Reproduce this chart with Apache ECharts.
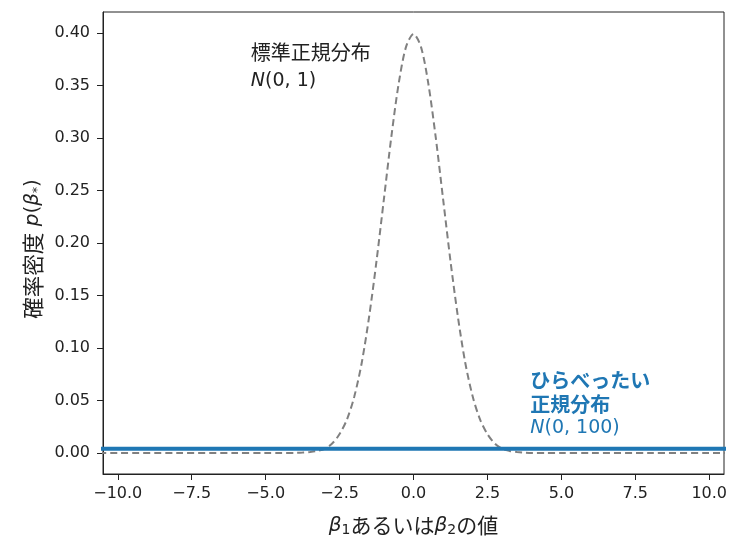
<!DOCTYPE html>
<html><head><meta charset="utf-8">
<script src="https://cdn.jsdelivr.net/npm/echarts@6/dist/echarts.min.js"></script>
<style>html,body{margin:0;padding:0;background:#fff}#c{width:741px;height:547px}</style>
</head><body><div id="c"></div>
<script>
// x values of the dashed standard-normal curve
const stdX = [-11,-10,-8,-6,-5,-4.5,-4,-3.75,-3.5,-3.25,-3,-2.75,-2.5,-2.25,-2,-1.75,-1.5,-1.25,-1,-0.75,-0.5,-0.25,0,0.25,0.5,0.75,1,1.25,1.5,1.75,2,2.25,2.5,2.75,3,3.25,3.5,3.75,4,4.5,5,6,8,10,11];
// density values
const stdY = [0,0,0,0,0,0,0.0001,0.0004,0.001,0.002,0.004,0.009,0.018,0.032,0.054,0.086,0.130,0.183,0.242,0.301,0.352,0.387,0.399,0.387,0.352,0.301,0.242,0.183,0.130,0.086,0.054,0.032,0.018,0.009,0.004,0.002,0.001,0.0004,0.0001,0,0,0,0,0,0];
// flat normal curve
const flatX = [-11,-10,-5,0,5,10,11];
const flatY = [0.004,0.004,0.004,0.004,0.004,0.004,0.004];
// tick labels
const xTicks = [-10,-7.5,-5,-2.5,0,2.5,5,7.5,10];
const yTicks = [0,0.05,0.10,0.15,0.20,0.25,0.30,0.35,0.40];

const numFont = '"DejaVu Sans", sans-serif';
const jpFont = '"Noto Sans CJK JP", "DejaVu Sans", sans-serif';
const blue = '#1f77b4';
const ink = '#222';
const chart = echarts.init(document.getElementById('c'));
chart.setOption({
  animation: false,
  grid: {left: 103, right: 17, top: 12, bottom: 73, show: true, borderColor: ink, borderWidth: 1,
    containLabel: false, outerBoundsMode: 'none'},
  xAxis: {
    type: 'value', min: -10.5, max: 10.5,
    splitLine: {show: false},
    axisLine: {show: true, onZero: false, lineStyle: {color: ink}},
    axisTick: {show: true, length: 6, customValues: xTicks, lineStyle: {color: ink}},
    axisLabel: {customValues: xTicks, color: ink, fontFamily: numFont, fontSize: 16, margin: 12,
      formatter: v => v.toFixed(1).replace('-', '\u2212')},
    name: '{b|β}{s|1}{j|あるいは}{b|β}{s|2}{j|の値}',
    nameLocation: 'middle', nameGap: 40,
    nameTextStyle: {rich: {
      b: {fontFamily: numFont, fontStyle: 'italic', fontSize: 20, color: ink},
      s: {fontFamily: numFont, fontSize: 14, color: ink, padding: [9, 0, 0, 0]},
      j: {fontFamily: jpFont, fontSize: 21, color: ink}
    }}
  },
  yAxis: {
    type: 'value', min: -0.02, max: 0.42,
    splitLine: {show: false},
    axisLine: {show: true, onZero: false, lineStyle: {color: ink}},
    axisTick: {show: true, length: 6, customValues: yTicks, lineStyle: {color: ink}},
    axisLabel: {customValues: yTicks, color: ink, fontFamily: numFont, fontSize: 16, margin: 13,
      formatter: v => v.toFixed(2)},
    name: '{j|確率密度}  {i|p}{n|(}{i|β}{s|*}{n|)}',
    nameLocation: 'middle', nameGap: 59, nameRotate: 90,
    nameTextStyle: {padding: [0, 12, 0, 0], rich: {
      j: {fontFamily: jpFont, fontSize: 21.5, color: ink},
      i: {fontFamily: numFont, fontStyle: 'italic', fontSize: 20, color: ink},
      n: {fontFamily: numFont, fontSize: 20, color: ink},
      s: {fontFamily: numFont, fontSize: 12, color: ink, padding: [10, 0, 0, 0]}
    }}
  },
  series: [
    {type: 'line', data: flatX.map((x, i) => [x, flatY[i]]), symbol: 'none', clip: true,
      lineStyle: {color: blue, width: 4}, z: 3},
    {type: 'line', data: stdX.map((x, i) => [x, stdY[i]]), symbol: 'none', clip: true, smooth: 0.3,
      lineStyle: {color: '#808080', width: 2, type: [7, 4]}, z: 2}
  ]
});

const p1 = chart.convertToPixel({gridIndex: 0}, [-5.5, 0.38]);
const p2 = chart.convertToPixel({gridIndex: 0}, [3.95, 0.08]);
chart.setOption({graphic: [
  {type: 'text', left: p1[0], top: p1[1] - 12, style: {
    text: '{j|標準正規分布}\n{i|N}{n|(0, 1)}',
    rich: {
      j: {fontFamily: jpFont, fontSize: 20, fill: ink, lineHeight: 29},
      i: {fontFamily: numFont, fontStyle: 'italic', fontSize: 19, fill: ink, lineHeight: 29},
      n: {fontFamily: numFont, fontSize: 19, fill: ink, lineHeight: 29}
    }}},
  {type: 'text', left: p2[0], top: p2[1] + 1, style: {
    text: '{j|ひらべったい}\n{j|正規分布}\n{i|N}{n|(0, 100)}',
    rich: {
      j: {fontFamily: jpFont, fontSize: 20, fontWeight: 'bold', fill: blue, lineHeight: 24},
      i: {fontFamily: numFont, fontStyle: 'italic', fontSize: 19, fill: blue, lineHeight: 24},
      n: {fontFamily: numFont, fontSize: 19, fill: blue, lineHeight: 24}
    }}}
]});
</script></body></html>
